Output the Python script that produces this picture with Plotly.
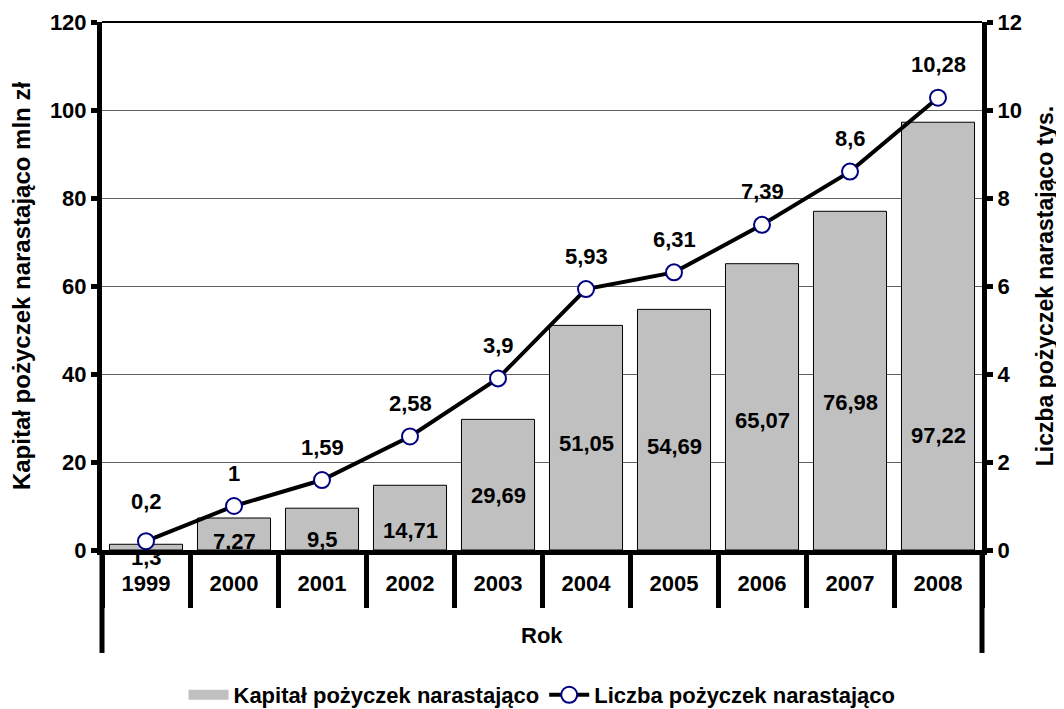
import plotly.graph_objects as go

years = ["1999", "2000", "2001", "2002", "2003", "2004", "2005", "2006", "2007", "2008"]
kapital = [1.3, 7.27, 9.5, 14.71, 29.69, 51.05, 54.69, 65.07, 76.98, 97.22]
liczba = [0.2, 1.0, 1.59, 2.58, 3.9, 5.93, 6.31, 7.39, 8.6, 10.28]

# label anchor heights (left-axis units) as placed in the original picture
bar_label_y = [-1.7, 2.0, 2.5, 4.5, 12.5, 24.1, 23.6, 29.5, 33.6, 26.1]

FONT = "Liberation Sans, Arial, sans-serif"
FS = 22
PLOT_H = 528
Y_MAX = 120


def fmt(v):
    return f"{v:g}".replace(".", ",")


fig = go.Figure()
fig.add_trace(go.Bar(
    x=years, y=kapital, name="Kapitał pożyczek narastająco",
    marker=dict(color="#C0C0C0", line=dict(color="black", width=1)),
    yaxis="y", showlegend=False,
))
# legend proxy giving the wide grey key of the original
fig.add_trace(go.Scatter(
    x=[None], y=[None], name="Kapitał pożyczek narastająco",
    mode="lines", line=dict(color="#C0C0C0", width=14), yaxis="y",
))
fig.add_trace(go.Scatter(
    x=years, y=liczba, name="Liczba pożyczek narastająco",
    mode="lines+markers", yaxis="y2",
    line=dict(color="black", width=4),
    marker=dict(size=16, color="white", line=dict(color="#000080", width=2)),
))

annotations = []
for i, (v, ly) in enumerate(zip(kapital, bar_label_y)):
    shift = min(ly, 0) * PLOT_H / Y_MAX
    annotations.append(dict(x=i, y=max(ly, 0), xref="x", yref="y", text=fmt(v),
                            showarrow=False, yshift=shift,
                            font=dict(size=FS, color="black")))
for i, v in enumerate(liczba):
    annotations.append(dict(x=i, y=v, xref="x", yref="y2", text=fmt(v),
                            showarrow=False, yshift=40 if i == 0 else 33,
                            font=dict(size=FS, color="black")))
annotations.append(dict(x=0.5, y=-0.161, xref="paper", yref="paper", text="Rok",
                        xanchor="center", yanchor="middle",
                        showarrow=False, font=dict(size=FS, color="black")))

shapes = [
    dict(type="line", xref="paper", yref="paper", x0=0, x1=1, y0=1, y1=1,
         line=dict(color="black", width=2)),
    dict(type="line", xref="paper", yref="paper", x0=0, x1=0, y0=0, y1=-0.195,
         line=dict(color="black", width=5)),
    dict(type="line", xref="paper", yref="paper", x0=1, x1=1, y0=0, y1=-0.195,
         line=dict(color="black", width=5)),
]

fig.update_layout(
    width=1056, height=701,
    margin=dict(l=94, r=82, t=14, b=159, autoexpand=False),
    paper_bgcolor="white", plot_bgcolor="white",
    font=dict(family=FONT, size=FS, color="black", weight="bold"),
    bargap=0.17,
    showlegend=True,
    legend=dict(orientation="h", x=0.5, xanchor="center", y=-0.2746, yanchor="middle",
                font=dict(size=FS), traceorder="normal", itemwidth=40),
    xaxis=dict(type="category", range=[-0.5, len(years) - 0.5], autorange=False,
               automargin=False,
               showline=True, linecolor="black", linewidth=5,
               ticks="outside", tickson="boundaries", ticklen=53, tickwidth=5,
               tickcolor="black", ticklabelstandoff=10, showgrid=False,
               tickfont=dict(size=FS)),
    yaxis=dict(range=[0, Y_MAX], dtick=20, showline=True, linecolor="black", linewidth=5,
               automargin=False,
               ticks="outside", ticklen=6, tickwidth=5, tickcolor="black",
               showgrid=True, gridcolor="#606060", gridwidth=1, zeroline=False,
               tickfont=dict(size=FS),
               title=dict(text="Kapitał pożyczek narastająco mln zł", standoff=16,
                          font=dict(size=24))),
    yaxis2=dict(range=[0, 12], dtick=2, overlaying="y", side="right",
                automargin=False,
                showline=True, linecolor="black", linewidth=5,
                ticks="outside", ticklen=6, tickwidth=5, tickcolor="black",
                showgrid=False, zeroline=False, tickfont=dict(size=FS),
                title=dict(text="Liczba pożyczek narastająco tys.", standoff=18,
                           font=dict(size=23))),
    annotations=annotations,
    shapes=shapes,
)

fig.write_html("out.html")
